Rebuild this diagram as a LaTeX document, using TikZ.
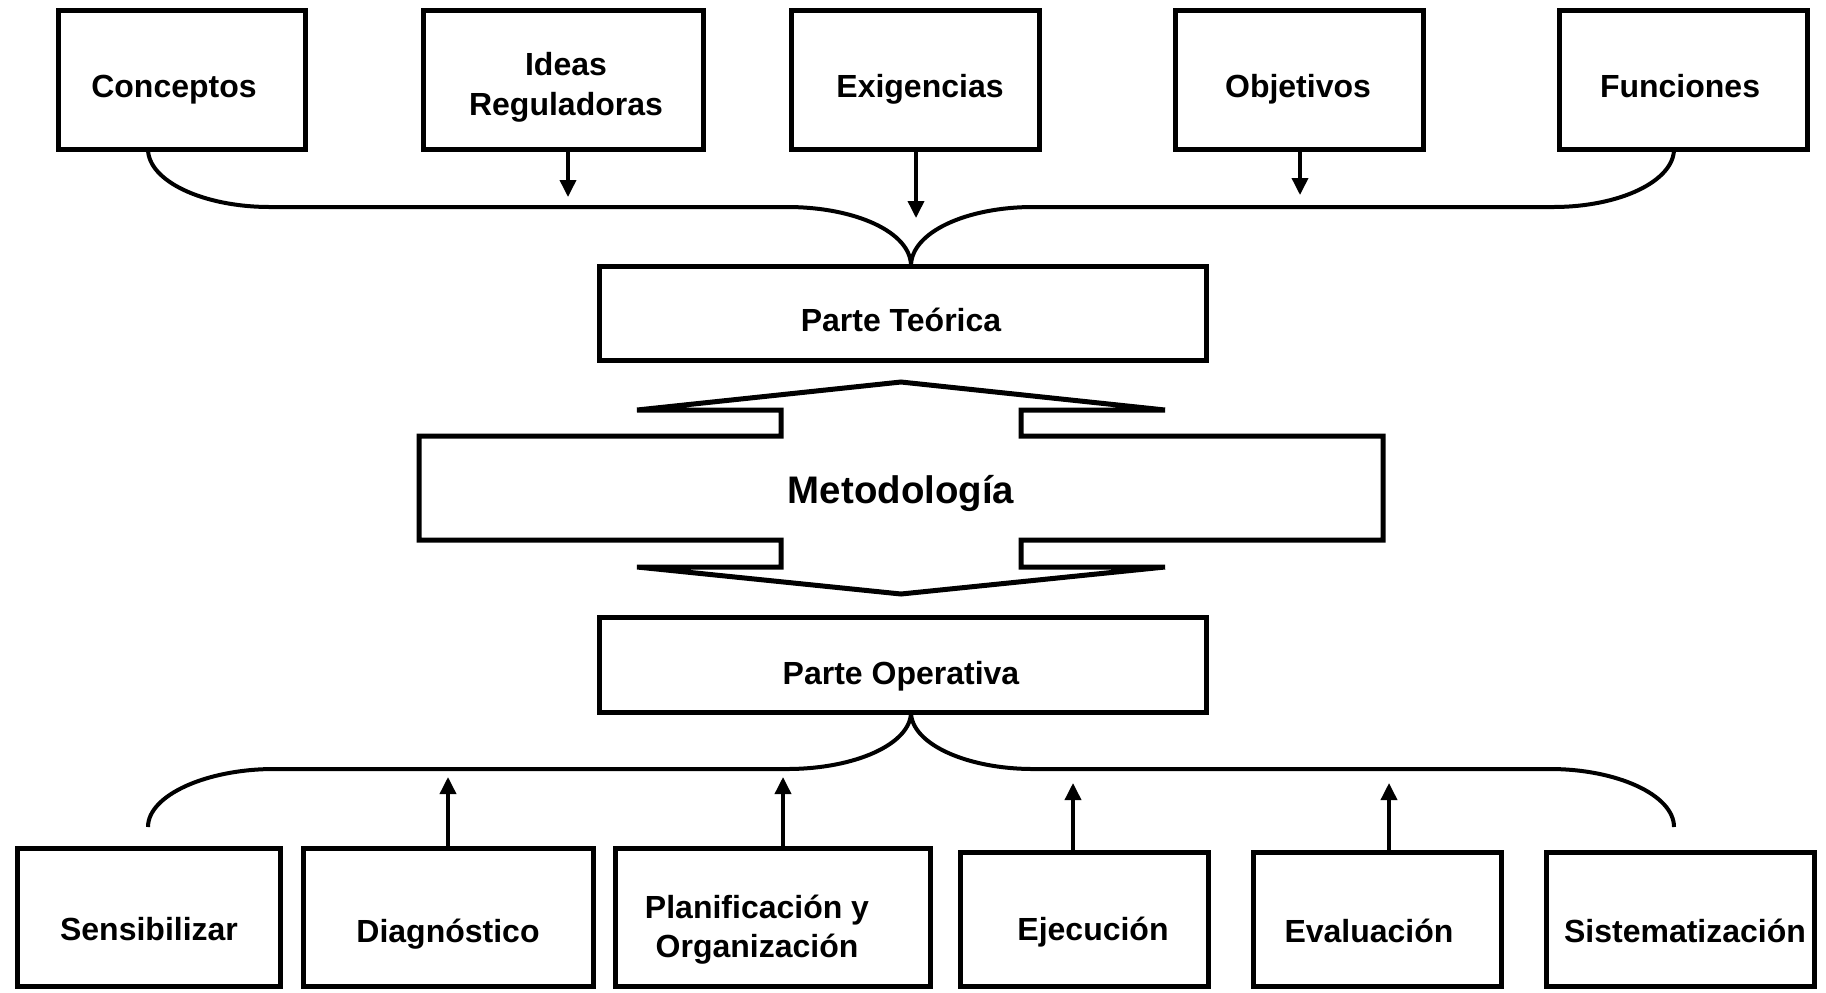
\documentclass[tikz,border=0pt]{standalone}
\usepackage{fontspec}
\setmainfont{Liberation Sans}
\usetikzlibrary{arrows.meta}
\newcommand\mybox[5]{\node[boxst, minimum width={(#4-#2)*0.5pt}, minimum height={(#5-#3)*0.5pt}] (#1) at ({(#2+#4)/2},{(#3+#5)/2}) {};}
\begin{document}
\begin{tikzpicture}[x=0.5pt,y=-0.5pt,
  boxst/.style={draw=black, line width=2.5pt, rectangle, inner sep=0pt, outer sep=0pt, fill=white},
  lbl/.style={anchor=base, inner sep=0pt, font=\fontsize{16}{19}\selectfont\bfseries},
  biglbl/.style={anchor=base, inner sep=0pt, font=\fontsize{19.2}{23}\selectfont\bfseries},
  arr/.style={line width=1.8pt, -{Triangle[length=8.5pt,width=8pt]}},
  brace/.style={line width=2pt},
  bigarrow/.style={line width=2.5pt}]
\useasboundingbox (0,0) rectangle (1826,992);
\fill[white] (0,0) rectangle (1826,992);

% top boxes
\mybox{conc}{58}{10}{305}{149}
\mybox{ideas}{423}{10}{703}{149}
\mybox{exig}{791}{10}{1039}{149}
\mybox{obj}{1175}{10}{1423}{149}
\mybox{func}{1559}{10}{1807}{149}
% middle boxes
\mybox{teo}{599}{266}{1206}{360}
\mybox{ope}{599}{617}{1206}{712}
% bottom boxes
\mybox{sens}{17}{848}{280}{986}
\mybox{diag}{303}{848}{593}{986}
\mybox{plan}{615}{848}{930}{986}
\mybox{ejec}{960}{852}{1208}{986}
\mybox{eval}{1253}{852}{1501}{986}
\mybox{sist}{1546}{852}{1814}{986}

% labels
\node[lbl] (conc-t) at (174,97) {Conceptos};
\node[lbl] (ideas-t1) at (566,75) {Ideas};
\node[lbl] (ideas-t2) at (566,115) {Reguladoras};
\node[lbl] (exig-t) at (920,97) {Exigencias};
\node[lbl] (obj-t) at (1298,97) {Objetivos};
\node[lbl] (func-t) at (1680,97) {Funciones};
\node[lbl] (teo-t) at (901,331) {Parte Teórica};
\node[lbl] (ope-t) at (901,684) {Parte Operativa};
\node[lbl] (sens-t) at (149,940) {Sensibilizar};
\node[lbl] (diag-t) at (448,942) {Diagnóstico};
\node[lbl] (plan-t1) at (757,918) {Planificación y};
\node[lbl] (plan-t2) at (757,957) {Organización};
\node[lbl] (ejec-t) at (1093,940) {Ejecución};
\node[lbl] (eval-t) at (1369,942) {Evaluación};
\node[lbl] (sist-t) at (1685,942) {Sistematización};

% Metodologia double arrow shape
\draw[bigarrow] (419,436) -- (781,436) -- (781,410) -- (637,410) -- (901,382) -- (1165,410)
  -- (1021,410) -- (1021,436) -- (1383,436) -- (1383,540) -- (1021,540) -- (1021,567)
  -- (1165,567) -- (901,594) -- (637,567) -- (781,567) -- (781,540) -- (419,540) -- cycle;
\node[biglbl] (met) at (901,503) {Metodología};

% top brace
\coordinate (tb-l) at (148,149);
\coordinate (tb-r) at (1674,149);
\coordinate (tb-j) at (911,266);
\draw[brace] (tb-l) .. controls (148,181) and (203,207) .. (270,207) -- (787,207)
  .. controls (855,207) and (911,232) .. (tb-j);
\draw[brace] (tb-j) .. controls (911,232) and (967,207) .. (1033,207) -- (1553,207)
  .. controls (1620,207) and (1674,181) .. (tb-r);

% bottom brace
\coordinate (bb-l) at (148,827);
\coordinate (bb-r) at (1674,827);
\coordinate (bb-j) at (911,712);
\draw[brace] (bb-j) .. controls (911,744) and (855,769) .. (787,769) -- (274,769)
  .. controls (207,769) and (148,795) .. (bb-l);
\draw[brace] (bb-j) .. controls (911,744) and (967,769) .. (1033,769) -- (1550,769)
  .. controls (1617,769) and (1674,795) .. (bb-r);

% top arrows
\coordinate (ta1) at (568,197);
\coordinate (ta2) at (916,218);
\coordinate (ta3) at (1300,195);
\draw[arr] (ideas.south -| ta1) -- (ta1);
\draw[arr] (exig.south -| ta2) -- (ta2);
\draw[arr] (obj.south -| ta3) -- (ta3);

% bottom arrows
\coordinate (ba1) at (448,777);
\coordinate (ba2) at (783,777);
\coordinate (ba3) at (1073,783);
\coordinate (ba4) at (1389,783);
\draw[arr] (diag.north -| ba1) -- (ba1);
\draw[arr] (plan.north -| ba2) -- (ba2);
\draw[arr] (ejec.north -| ba3) -- (ba3);
\draw[arr] (eval.north -| ba4) -- (ba4);
\end{tikzpicture}
\end{document}
